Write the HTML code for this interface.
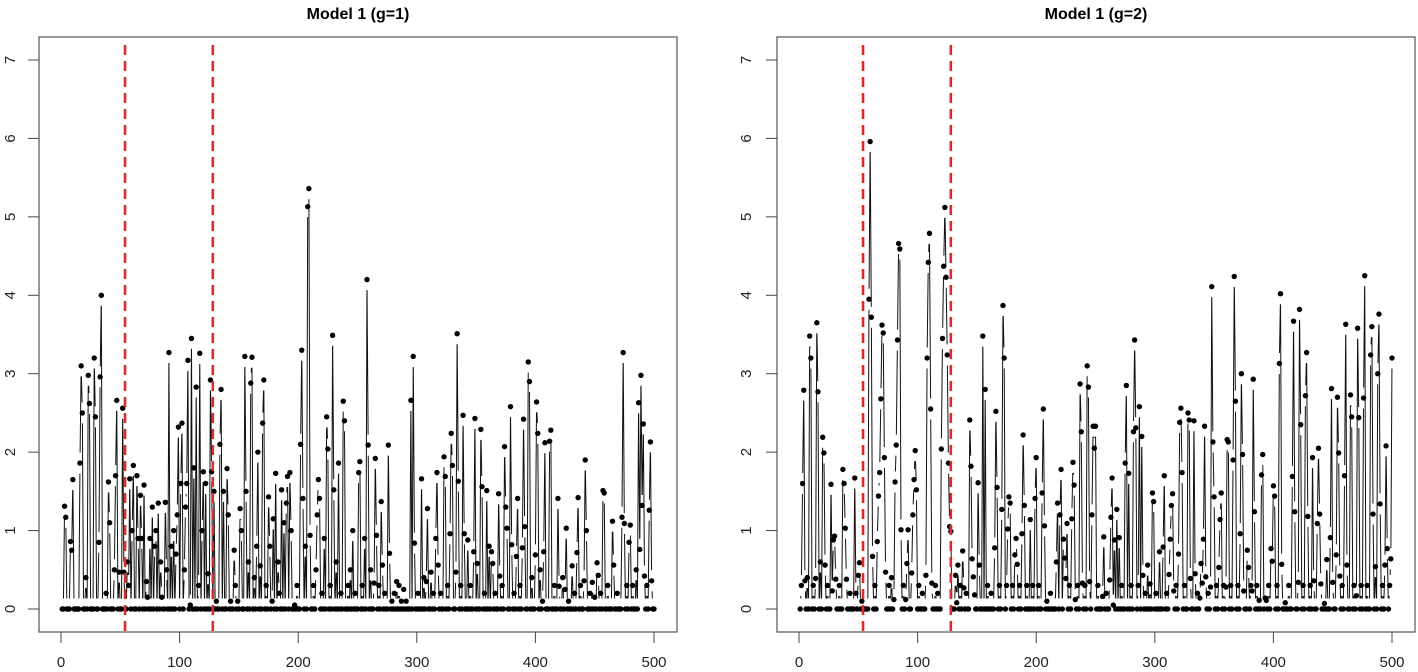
<!DOCTYPE html>
<html><head><meta charset="utf-8">
<style>
html,body{margin:0;padding:0;background:#fff;}
svg{display:block;font-family:"Liberation Sans",Arial,sans-serif;}
</style></head>
<body>
<svg id="chart" width="1418" height="672" viewBox="0 0 1418 672" xmlns="http://www.w3.org/2000/svg"></svg>
<script>
// ---- data ----
const panelTitles = ["Model 1 (g=1)", "Model 1 (g=2)"];
const xTicks = [0, 100, 200, 300, 400, 500];
const yTicks = [0, 1, 2, 3, 4, 5, 6, 7];
const changePoints = [54, 128];
const nObs = 500;
// nonzero observations [index, value]; all other indices are 0
const series1 = [[3,1.31],[4,1.17],[8,0.86],[9,0.75],[10,1.65],[16,1.86],[17,3.1],[18,2.5],[21,0.4],[23,2.98],[24,2.62],[28,3.2],[29,2.45],[32,0.85],[33,2.96],[34,4.0],[38,0.2],[40,1.62],[41,1.1],[45,0.5],[46,1.7],[47,2.66],[49,0.47],[52,2.56],[53,0.47],[56,0.6],[57,0.3],[58,1.66],[60,1.0],[61,1.83],[64,1.7],[65,0.9],[67,1.45],[68,0.9],[70,1.58],[72,0.35],[73,0.15],[75,0.9],[77,1.3],[79,0.8],[80,1.0],[82,1.35],[84,0.6],[85,0.15],[88,1.36],[89,0.5],[91,3.27],[93,0.8],[95,1.0],[97,0.7],[98,1.2],[99,2.32],[101,1.6],[102,2.37],[104,0.5],[105,1.3],[106,1.6],[107,3.17],[109,0.05],[110,3.45],[112,1.8],[114,2.83],[116,0.3],[117,3.26],[119,1.0],[120,1.75],[122,1.6],[124,0.45],[126,2.92],[127,1.75],[129,1.5],[131,0.1],[134,2.1],[135,2.8],[137,1.5],[140,1.79],[141,1.2],[143,0.1],[146,0.75],[147,0.3],[149,0.1],[151,1.28],[152,1.0],[155,3.22],[156,1.5],[158,0.6],[160,2.88],[161,3.21],[163,0.4],[165,0.8],[166,2.0],[168,0.55],[170,2.37],[171,2.92],[173,0.3],[175,1.43],[176,0.8],[178,0.1],[179,1.15],[181,1.73],[183,0.6],[184,0.2],[186,1.52],[188,1.1],[190,1.35],[191,1.69],[193,1.74],[194,1.0],[197,0.05],[199,0.3],[202,2.1],[203,3.3],[204,1.41],[206,0.8],[208,5.13],[209,5.36],[210,0.94],[213,0.3],[215,0.5],[216,1.2],[217,1.65],[218,1.41],[220,0.2],[222,0.9],[224,2.45],[225,2.04],[227,0.3],[229,3.49],[230,1.52],[232,0.6],[234,1.86],[236,0.2],[238,2.65],[239,2.4],[242,0.3],[244,0.5],[246,1.0],[248,0.2],[251,1.74],[252,1.88],[254,0.3],[256,0.9],[258,4.2],[259,2.09],[261,0.5],[264,0.33],[265,1.92],[266,0.94],[268,0.3],[270,1.37],[271,0.56],[273,0.2],[276,2.09],[277,0.71],[279,0.1],[281,0.2],[283,0.35],[285,0.3],[287,0.1],[289,0.25],[291,0.1],[295,2.66],[297,3.22],[298,0.84],[301,0.2],[304,1.66],[306,0.4],[308,0.35],[309,1.28],[312,0.47],[314,0.2],[316,0.9],[317,1.74],[318,0.56],[320,0.2],[323,1.94],[324,1.69],[326,0.3],[328,0.96],[329,2.24],[330,1.83],[333,0.47],[334,3.51],[335,1.63],[337,0.3],[339,2.47],[340,0.96],[343,0.88],[345,0.3],[348,0.73],[349,2.43],[351,0.58],[354,2.29],[355,1.56],[357,0.2],[359,1.51],[361,0.8],[363,0.73],[364,0.58],[366,0.2],[369,1.47],[370,0.42],[372,0.3],[374,2.07],[375,1.3],[376,1.03],[379,2.58],[380,0.82],[382,0.2],[384,0.67],[385,1.41],[387,0.3],[389,0.78],[390,2.42],[391,1.05],[394,3.15],[395,2.9],[397,0.4],[400,0.69],[401,2.64],[402,2.24],[404,0.5],[406,0.1],[407,0.73],[408,2.12],[412,2.14],[413,2.28],[416,0.3],[419,1.41],[420,0.29],[423,0.4],[425,0.25],[426,1.03],[428,0.1],[431,0.55],[433,0.2],[435,0.72],[436,1.42],[438,0.3],[441,0.36],[442,1.9],[443,1.0],[446,0.2],[448,0.34],[450,0.15],[452,0.59],[453,0.43],[455,0.2],[457,1.51],[458,1.48],[461,0.3],[465,1.12],[466,0.56],[469,0.2],[473,1.17],[474,3.27],[475,1.09],[477,0.3],[479,0.85],[480,1.07],[482,0.3],[485,0.5],[487,2.63],[488,0.76],[489,2.98],[490,1.32],[491,2.36],[492,0.42],[494,0.3],[496,1.26],[497,2.13],[498,0.36]];
const series2 = [[2,0.3],[3,1.6],[4,2.79],[5,0.36],[7,0.4],[9,3.48],[10,3.2],[12,0.3],[14,0.39],[15,3.65],[16,2.77],[18,0.6],[20,2.19],[21,1.99],[22,0.56],[24,0.3],[27,1.59],[28,0.23],[29,0.88],[30,0.93],[31,0.38],[34,0.3],[37,1.78],[38,1.6],[39,1.03],[40,0.38],[43,0.2],[47,1.67],[48,0.2],[50,0.43],[51,0.59],[53,0.1],[59,3.95],[60,5.96],[61,3.72],[62,0.67],[64,0.3],[66,0.86],[67,1.44],[68,1.74],[69,2.68],[70,3.62],[71,3.52],[72,1.93],[73,0.47],[76,0.3],[78,0.4],[80,0.12],[81,1.62],[82,2.09],[83,3.43],[84,4.66],[85,4.59],[86,1.01],[88,0.3],[90,0.12],[91,0.58],[92,1.01],[95,0.46],[96,1.2],[97,1.65],[98,2.02],[99,1.52],[101,0.3],[104,0.2],[107,0.43],[108,3.2],[109,4.42],[110,4.79],[111,2.55],[112,0.33],[115,0.3],[117,0.2],[120,2.04],[121,3.45],[122,4.37],[123,5.12],[124,4.23],[125,3.24],[126,1.86],[127,1.05],[128,0.99],[132,0.43],[133,0.08],[134,0.56],[136,0.3],[138,0.74],[139,0.27],[141,0.2],[144,2.41],[145,1.82],[146,0.64],[147,0.41],[148,0.18],[151,1.61],[152,0.56],[155,3.48],[157,2.8],[159,0.3],[162,0.2],[165,0.78],[166,2.52],[167,1.55],[169,0.3],[171,1.27],[172,3.87],[173,3.2],[175,0.3],[176,1.02],[177,1.43],[178,1.35],[180,0.3],[182,0.69],[183,0.9],[184,0.57],[186,0.3],[188,0.96],[189,2.22],[190,1.32],[192,0.3],[195,1.14],[197,0.3],[199,1.41],[200,1.93],[202,0.3],[205,1.48],[206,2.55],[207,1.06],[209,0.1],[212,0.2],[217,0.6],[218,1.35],[220,1.2],[221,1.78],[223,0.89],[224,0.65],[225,0.39],[226,1.09],[228,0.3],[230,1.15],[231,1.87],[232,1.58],[233,0.12],[235,0.3],[237,2.87],[238,2.26],[239,0.33],[241,0.3],[243,3.1],[244,2.83],[245,0.35],[247,1.2],[248,2.33],[249,2.05],[250,2.33],[252,0.3],[256,0.16],[257,0.92],[259,0.2],[262,0.37],[263,1.17],[264,1.67],[265,0.05],[266,0.88],[268,1.27],[270,0.91],[272,0.3],[275,1.86],[276,2.85],[278,1.73],[280,0.3],[282,2.26],[283,3.43],[284,2.31],[286,0.3],[287,2.58],[289,2.2],[290,0.43],[292,0.2],[294,0.56],[296,0.32],[298,1.48],[299,1.37],[301,0.2],[304,0.73],[307,0.79],[308,1.7],[310,0.2],[312,0.44],[313,0.89],[314,1.32],[315,1.47],[316,0.23],[318,0.3],[320,0.7],[321,2.38],[322,2.56],[323,1.74],[325,0.3],[328,2.5],[329,2.41],[330,0.39],[333,2.4],[334,0.45],[336,0.2],[338,0.14],[339,0.58],[340,0.33],[341,0.89],[342,2.33],[343,0.41],[345,0.2],[347,0.28],[348,4.11],[349,2.13],[350,1.43],[352,0.3],[354,0.53],[355,1.14],[356,1.48],[358,0.3],[360,0.28],[361,2.16],[362,2.13],[364,0.3],[366,1.9],[367,4.24],[368,2.65],[370,0.3],[372,0.96],[373,3.0],[374,1.97],[375,0.23],[378,0.75],[379,0.53],[381,0.3],[382,0.23],[383,2.93],[384,1.24],[386,0.3],[388,0.11],[390,1.71],[391,1.97],[393,0.14],[394,0.11],[396,0.3],[398,0.77],[399,0.61],[400,1.57],[401,1.44],[403,0.3],[405,3.13],[406,4.02],[407,0.57],[410,0.08],[413,0.3],[416,1.69],[417,3.67],[418,1.24],[421,0.34],[422,3.82],[423,2.35],[425,0.3],[427,2.72],[428,3.27],[429,1.18],[431,0.3],[433,1.93],[434,0.36],[437,1.09],[438,2.05],[439,1.21],[440,0.32],[443,0.07],[445,0.63],[448,0.91],[449,2.81],[450,0.34],[453,0.69],[454,2.7],[455,1.99],[456,0.42],[458,0.3],[460,1.7],[461,3.63],[462,0.56],[465,2.73],[466,2.45],[468,0.3],[470,0.17],[471,3.58],[472,2.44],[474,0.3],[476,2.69],[477,4.25],[479,0.3],[482,3.24],[483,3.6],[484,1.21],[486,0.54],[488,3.0],[489,3.76],[490,1.34],[492,0.3],[494,0.56],[495,2.08],[496,0.77],[498,0.3],[499,0.64],[500,3.2]];
const seriesList = [series1, series2];

// ---- layout ----
const NS = "http://www.w3.org/2000/svg";
const svg = document.getElementById("chart");
const panels = [
  {frameL:39, frameR:677, x0:61, x500:654, ylab:10, prefix:"left"},
  {frameL:777, frameR:1415, x0:799, x500:1392, ylab:746, prefix:"right"}
];
const frameT = 37, frameB = 632, yZero = 609, yPerUnit = 78.43;
function mk(tag, attrs, parent){ const e=document.createElementNS(NS,tag); for(const k in attrs) e.setAttribute(k,attrs[k]); (parent||svg).appendChild(e); return e; }

panels.forEach((p, pi) => {
  const sx = v => p.x0 + (v) * (p.x500 - p.x0) / 500;
  const sy = v => yZero - v * yPerUnit;
  const g = mk("g", {});
  
  

  const title = mk("text", {x:(p.frameL+p.frameR)/2, y:19, "text-anchor":"middle", "font-size":"16", "font-weight":"bold", fill:"#000"}, g);
  title.textContent = panelTitles[pi];
  
  

  const frame = mk("rect", {x:p.frameL, y:frameT, width:p.frameR-p.frameL, height:frameB-frameT, fill:"none", stroke:"#555", "stroke-width":"1.2"}, g);
  
  

  xTicks.forEach(t => {
    const x = sx(t);
    const tk = mk("line", {x1:x, x2:x, y1:frameB, y2:frameB+11, stroke:"#444", "stroke-width":"1"}, g);
    
    
    const lb = mk("text", {x:x, y:667, "text-anchor":"middle", "font-size":"15", fill:"#222"}, g);
    lb.textContent = t;
    
    
  });
  yTicks.forEach(t => {
    const y = sy(t);
    const tk = mk("line", {x1:p.frameL-11, x2:p.frameL, y1:y, y2:y, stroke:"#444", "stroke-width":"1"}, g);
    
    
    const lb = mk("text", {x:0, y:0, "text-anchor":"middle", "font-size":"15", fill:"#222", transform:`translate(${p.ylab+5},${y}) rotate(-90)`}, g);
    lb.textContent = t;
    
    
  });

  // full series
  const vals = new Array(nObs+1).fill(0);
  seriesList[pi].forEach(([i, v]) => { vals[i] = v; });
  const pts = [];
  for (let i = 1; i <= nObs; i++) pts.push([sx(i), sy(vals[i])]);

  // type="b" line segments with gaps around points
  const gap = 10.5;
  let d = "";
  for (let k = 0; k < pts.length - 1; k++) {
    const [xa, ya] = pts[k], [xb, yb] = pts[k+1];
    const L = Math.hypot(xb-xa, yb-ya);
    if (L <= 2*gap) continue;
    const ux = (xb-xa)/L, uy = (yb-ya)/L;
    d += `M${(xa+ux*gap).toFixed(2)},${(ya+uy*gap).toFixed(2)}L${(xb-ux*gap).toFixed(2)},${(yb-uy*gap).toFixed(2)}`;
  }
  const line = mk("path", {d:d, stroke:"#111", "stroke-width":"1", fill:"none"}, g);
  
  

  const dots = mk("g", {fill:"#000"}, g);
  
  
  pts.forEach(([x, y]) => {
    const c = mk("circle", {cx:x.toFixed(2), cy:y.toFixed(2), r:"2.7"}, dots);
    
    
  });

  changePoints.forEach(cp => {
    const x = sx(cp);
    const rl = mk("line", {x1:x, x2:x, y1:frameT+8, y2:frameB, stroke:"#d2302f", "stroke-width":"2.6", "stroke-dasharray":"10,6"}, g);
    
    
  });
});
</script>
</body></html>
